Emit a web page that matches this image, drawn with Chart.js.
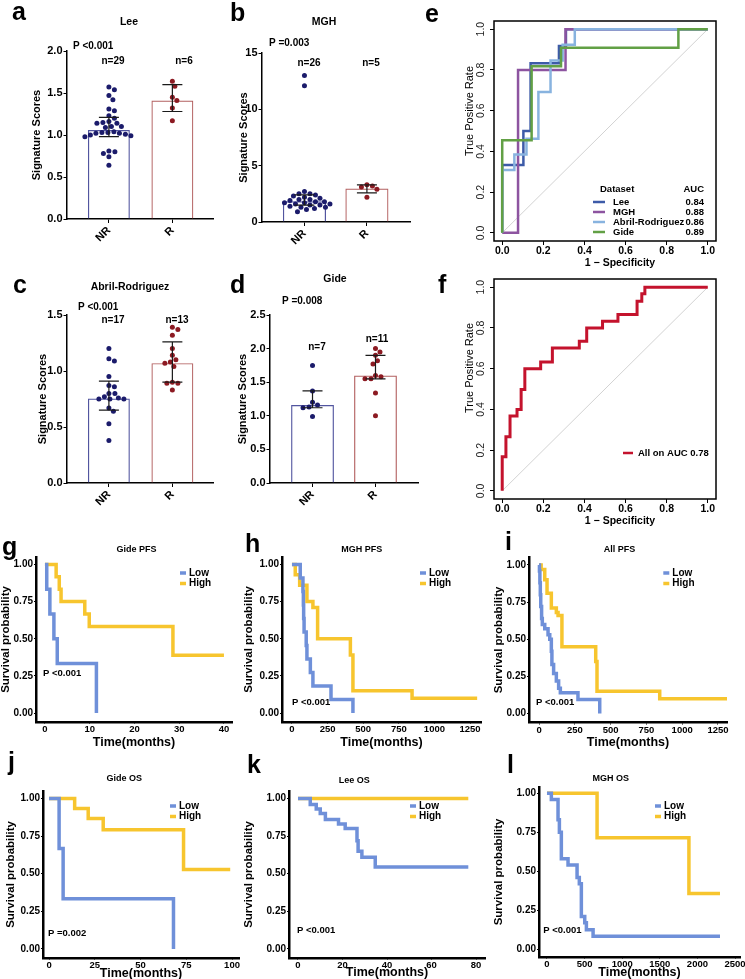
<!DOCTYPE html>
<html>
<head>
<meta charset="utf-8">
<script src="https://cdn.jsdelivr.net/npm/chart.js@4.4.1/dist/chart.umd.min.js"></script>
<style>
  body { margin: 0; width: 745px; height: 979px; position: relative; overflow: hidden; background: #fff; font-family: 'Liberation Sans', Arial, sans-serif; }
  canvas { position: absolute; }
  .lt { position: absolute; font-weight: bold; font-size: 25px; line-height: 1; z-index: 5; }
</style>
</head>
<body>
<div class="lt" style="left:12px;top:-1px">a</div>
<div class="lt" style="left:230px;top:0px">b</div>
<div class="lt" style="left:425px;top:1px">e</div>
<div class="lt" style="left:13px;top:272px">c</div>
<div class="lt" style="left:230px;top:272px">d</div>
<div class="lt" style="left:438px;top:272px">f</div>
<div class="lt" style="left:2px;top:534px">g</div>
<div class="lt" style="left:245px;top:531px">h</div>
<div class="lt" style="left:505px;top:529px">i</div>
<div class="lt" style="left:8px;top:749px">j</div>
<div class="lt" style="left:247px;top:752px">k</div>
<div class="lt" style="left:507px;top:752px">l</div>
<script>
// ---------- data ----------
// a-d: signature scores, non-responders vs responders
const groups = ['NR', 'R'];

const leeNR = [1.57, 1.54, 1.47, 1.42, 1.31, 1.29, 1.23, 1.20, 1.16, 1.15, 1.14, 1.14, 1.10, 1.10, 1.09,
               1.04, 1.03, 1.03, 1.02, 1.02, 1.01, 1.00, 0.99, 0.98, 0.81, 0.80, 0.78, 0.74, 0.64];
const leeR = [1.64, 1.58, 1.45, 1.41, 1.32, 1.17];
const leeBar = [1.06, 1.41];
const leeLo = [0.98, 1.28];
const leeHi = [1.21, 1.60];

const mghNR = [13.0, 12.1, 2.7, 2.5, 2.5, 2.4, 2.3, 2.2, 2.1, 2.0, 2.0, 1.9, 1.8, 1.8, 1.7, 1.7,
               1.6, 1.6, 1.5, 1.5, 1.4, 1.3, 1.3, 1.2, 1.1, 0.9];
const mghR = [3.3, 3.2, 3.1, 2.9, 2.2];
const mghBar = [1.84, 2.97];
const mghLo = [1.5, 2.58];
const mghHi = [2.4, 3.3];

const abrNR = [1.20, 1.11, 1.09, 0.95, 0.87, 0.86, 0.80, 0.80, 0.77, 0.76, 0.75, 0.75, 0.75, 0.67, 0.64, 0.53, 0.38];
const abrR = [1.39, 1.37, 1.32, 1.20, 1.14, 1.10, 1.08, 1.07, 1.04, 0.90, 0.89, 0.89, 0.83];
const abrBar = [0.755, 1.07];
const abrLo = [0.65, 0.90];
const abrHi = [0.91, 1.26];

const gideNR = [1.75, 1.37, 1.20, 1.16, 1.13, 1.12, 0.99];
const gideR = [2.0, 1.95, 1.90, 1.82, 1.77, 1.60, 1.58, 1.55, 1.55, 1.34, 1.0];
const gideBar = [1.16, 1.60];
const gideLo = [1.12, 1.55];
const gideHi = [1.37, 1.90];

const ticksLee = [0, 0.5, 1, 1.5, 2];
const ticksMgh = [0, 5, 10, 15];
const ticksAbr = [0, 0.5, 1, 1.5];
const ticksGide = [0, 0.5, 1, 1.5, 2, 2.5];

// e-f: ROC curves (1 - specificity, sensitivity)
const leeFpr = [0, 0, 0.103, 0.103, 0.138, 0.138, 0.276, 0.276, 0.31, 0.31, 1];
const leeTpr = [0, 0.333, 0.333, 0.5, 0.5, 0.833, 0.833, 0.917, 0.917, 1, 1];
const mghFpr = [0, 0.077, 0.077, 0.308, 0.308, 1];
const mghTpr = [0, 0, 0.8, 0.8, 1, 1];
const abrFpr = [0, 0, 0.059, 0.059, 0.118, 0.118, 0.176, 0.176, 0.235, 0.235, 0.294, 0.294, 0.353, 0.353, 1];
const abrTpr = [0, 0.308, 0.308, 0.385, 0.385, 0.462, 0.462, 0.692, 0.692, 0.846, 0.846, 0.923, 0.923, 1, 1];
const gideFpr = [0, 0, 0.143, 0.143, 0.286, 0.286, 0.857, 0.857, 1];
const gideTpr = [0, 0.455, 0.455, 0.818, 0.818, 0.909, 0.909, 1, 1];
const allFpr = [0, 0, 0.018, 0.018, 0.038, 0.038, 0.072, 0.072, 0.092, 0.092, 0.11, 0.11, 0.187, 0.187,
                0.244, 0.244, 0.375, 0.375, 0.411, 0.411, 0.488, 0.488, 0.563, 0.563, 0.656, 0.656,
                0.679, 0.679, 0.694, 0.694, 1];
const allTpr = [0, 0.167, 0.167, 0.265, 0.265, 0.368, 0.368, 0.399, 0.399, 0.498, 0.498, 0.6, 0.6, 0.632,
                0.632, 0.701, 0.701, 0.734, 0.734, 0.8, 0.8, 0.833, 0.833, 0.866, 0.866, 0.931, 0.931,
                0.967, 0.967, 1, 1];
const rocNames = ['Lee', 'MGH', 'Abril-Rodriguez', 'Gide'];
const rocAuc = ['0.84', '0.88', '0.86', '0.89'];
const rocTicks = [0, 0.2, 0.4, 0.6, 0.8, 1];

// g-l: Kaplan-Meier curves (time, survival after each step)
const gLowT = [0, 0.4, 1.1, 2.0, 2.75, 11.5];
const gLowS = [1, 0.833, 0.667, 0.5, 0.333, 0];
const gHighT = [0, 2.5, 3.2, 3.6, 8.9, 9.9, 28.6, 40];
const gHighS = [1, 0.917, 0.833, 0.75, 0.667, 0.583, 0.389, 0.389];

const hLowT = [0, 58, 77, 80, 82, 85, 100, 105, 129, 147, 274, 428];
const hLowS = [1, 0.909, 0.818, 0.727, 0.636, 0.545, 0.455, 0.364, 0.273, 0.182, 0.091, 0];
const hHighT = [0, 23, 54, 105, 147, 180, 410, 428, 843, 1300];
const hHighS = [1, 0.93, 0.86, 0.75, 0.71, 0.5, 0.39, 0.15, 0.1, 0.1];

const iLowT = [0, 3, 6, 9, 12, 18, 23, 40, 63, 75, 86, 90, 102, 121, 137, 149, 272, 424];
const iLowS = [1, 0.96, 0.88, 0.8, 0.72, 0.64, 0.6, 0.57, 0.53, 0.5, 0.42, 0.33, 0.27, 0.22, 0.17, 0.14, 0.095, 0];
const iHighT = [0, 15, 40, 56, 86, 121, 133, 160, 396, 405, 843, 1320];
const iHighS = [1, 0.97, 0.9, 0.81, 0.71, 0.68, 0.66, 0.45, 0.35, 0.15, 0.1, 0.1];

const jLowT = [0, 5.5, 7.7, 68];
const jLowS = [1, 0.667, 0.333, 0];
const jHighT = [0, 14, 21.4, 29.6, 73.5, 99];
const jHighS = [1, 0.933, 0.867, 0.793, 0.529, 0.529];

const kLowT = [0, 5.5, 8.2, 10, 12.3, 18.2, 21.2, 26.5, 27, 28.7, 34.7, 76.5];
const kLowS = [1, 0.96, 0.93, 0.9, 0.86, 0.83, 0.8, 0.72, 0.65, 0.61, 0.545, 0.545];
const kHighT = [0, 76.5];
const kHighS = [1, 1];

const lLowT = [0, 58, 147, 165, 191, 280, 400, 430, 457, 502, 524, 613, 2300];
const lLowS = [1, 0.96, 0.83, 0.75, 0.58, 0.54, 0.46, 0.42, 0.21, 0.17, 0.125, 0.083, 0.083];
const lHighT = [0, 666, 1887, 2300];
const lHighS = [1, 0.714, 0.357, 0.357];

const survTicks = [0, 0.25, 0.5, 0.75, 1];
const gxTicks = [0, 10, 20, 30, 40];
const hxTicks = [0, 250, 500, 750, 1000, 1250];
const jxTicks = [0, 25, 50, 75, 100];
const kxTicks = [0, 20, 40, 60, 80];
const lxTicks = [0, 500, 1000, 1500, 2000, 2500];

// ---------- styles ----------
const FONT = "'Liberation Sans', Arial, sans-serif";
const NAVY = '#1b1b6b', DRED = '#8c1a22', NRLINE = '#52559f', RLINE = '#b36060';
const LOW = '#6f90d9', HIGH = '#f7c52e';
const C_LEE = '#3d5ba8', C_MGH = '#8d54a0', C_ABR = '#88b3df', C_GIDE = '#62a045', C_ALL = '#c4132d';

const fnt = (size, bold) => ({ family: FONT, size: size, weight: bold ? 'bold' : 'normal' });
const css = (size, bold) => (bold ? 'bold ' : '') + size + 'px ' + FONT;
const txt = (t, x, y, size, bold, align, rot) => ({ t, x, y, size, bold, align: align || 'left', rot: rot || 0 });
const seg = (x1, y1, x2, y2, color, w) => ({ line: [x1, y1, x2, y2], color, w });

// ---------- plugins ----------
const notes = {
  id: 'notes',
  afterDraw(chart, args, o) {
    if (!o.items) return;
    const ctx = chart.ctx, ox = o.origin[0], oy = o.origin[1];
    o.items.forEach(it => {
      ctx.save();
      if (it.line) {
        ctx.strokeStyle = it.color;
        ctx.lineWidth = it.w;
        ctx.beginPath();
        ctx.moveTo(it.line[0] - ox, it.line[1] - oy);
        ctx.lineTo(it.line[2] - ox, it.line[3] - oy);
        ctx.stroke();
      } else {
        ctx.font = css(it.size, it.bold);
        ctx.fillStyle = '#000';
        ctx.textAlign = it.align;
        ctx.textBaseline = 'middle';
        ctx.translate(it.x - ox, it.y - oy);
        if (it.rot) ctx.rotate(it.rot);
        ctx.fillText(it.t, 0, 0);
      }
      ctx.restore();
    });
  }
};

const errbars = {
  id: 'errbars',
  afterDatasetsDraw(chart, args, o) {
    if (!o.lo) return;
    const ctx = chart.ctx, xs = chart.scales.x, ys = chart.scales.y;
    ctx.save();
    ctx.strokeStyle = '#1a1a1a';
    ctx.lineWidth = 1.2;
    o.lo.forEach((lo, i) => {
      const px = xs.getPixelForValue(i);
      const y1 = ys.getPixelForValue(lo), y2 = ys.getPixelForValue(o.hi[i]);
      ctx.beginPath();
      ctx.moveTo(px, y1); ctx.lineTo(px, y2);
      ctx.moveTo(px - o.cap, y1); ctx.lineTo(px + o.cap, y1);
      ctx.moveTo(px - o.cap, y2); ctx.lineTo(px + o.cap, y2);
      ctx.stroke();
    });
    ctx.restore();
  }
};

const frame = {
  id: 'frame',
  afterDatasetsDraw(chart, args, o) {
    if (!o.width) return;
    const a = chart.chartArea, ctx = chart.ctx;
    ctx.save();
    ctx.strokeStyle = '#000';
    ctx.lineWidth = o.width;
    ctx.strokeRect(a.left, a.top, a.right - a.left, a.bottom - a.top);
    ctx.restore();
  }
};

Chart.register(notes, errbars, frame);

// ---------- helpers ----------
function mount(box) {
  const c = document.createElement('canvas');
  c.width = box[2];
  c.height = box[3];
  c.style.left = box[0] + 'px';
  c.style.top = box[1] + 'px';
  document.body.appendChild(c);
  return c;
}

// yEdge: left edge of the y axis box, xEdge: bottom edge of the x axis box (page px)
function pads(box, area, yEdge, xEdge) {
  return { left: yEdge - box[0], top: area.t - box[1], right: box[0] + box[2] - area.r, bottom: box[1] + box[3] - xEdge };
}
const fitW = w => s => { s.width = w; s.paddingTop = 0; s.paddingBottom = 0; s.paddingLeft = 0; s.paddingRight = 0; };
const fitH = h => s => { s.height = h; s.paddingTop = 0; s.paddingBottom = 0; s.paddingLeft = 0; s.paddingRight = 0; };
const fixTicks = vals => s => { s.ticks = vals.map(v => ({ value: v })); };
const pairs = (xs, ys) => xs.map((x, i) => ({ x: x, y: ys[i] }));

// spread equal-ish values sideways so dots do not overlap (beeswarm)
function swarm(chart, di, center) {
  const xs = chart.scales.x, ys = chart.scales.y;
  const unit = xs.getPixelForValue(1) - xs.getPixelForValue(0);
  const ds = chart.data.datasets[di];
  const pts = ds.data;
  const gap = 2 * ds.pointRadius + 0.6;
  const placed = [];
  pts.map((p, i) => i).sort((i, j) => pts[j].y - pts[i].y).forEach(i => {
    const py = ys.getPixelForValue(pts[i].y);
    let off = 0;
    for (let k = 0; k < 300; k++) {
      off = (k % 2 ? 1 : -1) * Math.ceil(k / 2) * 0.5;
      if (placed.every(q => Math.hypot(q[0] - off, q[1] - py) >= gap)) break;
    }
    placed.push([off, py]);
    pts[i].x = center + off / unit;
  });
}

function axisBase(tl, bw) {
  return {
    grid: { display: true, drawOnChartArea: false, drawTicks: true, tickLength: tl, color: '#000', lineWidth: 1, offset: false },
    border: { display: bw > 0, color: '#000', width: bw }
  };
}

// ---------- a-d ----------
function scorePanel(p) {
  const box = p.box, a = p.area;
  const xb = axisBase(4, 1.5), yb = axisBase(3.5, 1.5);
  const chart = new Chart(mount(box), {
    type: 'bar',
    data: {
      datasets: [
        { type: 'scatter', data: p.nr.map(v => ({ x: 0, y: v })), backgroundColor: NAVY, borderWidth: 0, pointRadius: 2.5, order: 1 },
        { type: 'scatter', data: p.r.map(v => ({ x: 1, y: v })), backgroundColor: DRED, borderWidth: 0, pointRadius: 2.5, order: 1 },
        { type: 'bar', data: p.bar.map((v, i) => ({ x: i, y: v })), backgroundColor: 'rgba(255,255,255,0)',
          borderColor: [NRLINE, RLINE], borderWidth: 1.2, barPercentage: p.bw, categoryPercentage: 1, order: 2 }
      ]
    },
    options: {
      responsive: false, animation: false, events: [],
      layout: { padding: pads(box, a, p.yEdge, box[1] + box[3]) },
      plugins: {
        legend: { display: false }, tooltip: { enabled: false },
        errbars: { lo: p.lo, hi: p.hi, cap: 10 },
        notes: { origin: box, items: p.notes }
      },
      scales: {
        x: {
          type: 'linear', min: p.xr[0], max: p.xr[1], offset: false,
          afterFit: fitH(box[1] + box[3] - a.b), afterBuildTicks: fixTicks([0, 1]),
          ticks: { callback: v => groups[v], minRotation: 45, maxRotation: 45, autoSkip: false, padding: 1, color: '#000', font: fnt(11, true) },
          grid: xb.grid, border: xb.border
        },
        y: {
          min: p.yr[0], max: p.yr[1],
          afterFit: fitW(a.l - p.yEdge), afterBuildTicks: fixTicks(p.yt),
          ticks: { callback: v => v.toFixed(p.dec), padding: 1, color: '#000', font: fnt(11, true) },
          title: { display: true, text: 'Signature Scores', color: '#000', font: fnt(11, true), padding: 0 },
          grid: yb.grid, border: yb.border
        }
      }
    }
  });
  swarm(chart, 0, 0);
  swarm(chart, 1, 1);
  chart.update('none');
}

scorePanel({
  box: [0, 0, 232, 245], area: { l: 67, t: 51, r: 213, b: 219 }, yEdge: 30.4,
  xr: [-0.66, 1.64], yr: [0, 2], yt: ticksLee, dec: 1, bw: 0.66,
  nr: leeNR, r: leeR, bar: leeBar, lo: leeLo, hi: leeHi,
  notes: [txt('Lee', 129, 22, 10.5, true, 'center'), txt('P <0.001', 73, 46, 10, true),
          txt('n=29', 113, 61, 10, true, 'center'), txt('n=6', 184, 61, 10, true, 'center')]
});
scorePanel({
  box: [235, 0, 225, 245], area: { l: 262, t: 53, r: 410, b: 222 }, yEdge: 237.4,
  xr: [-0.68, 1.69], yr: [0, 15], yt: ticksMgh, dec: 0, bw: 0.69,
  nr: mghNR, r: mghR, bar: mghBar, lo: mghLo, hi: mghHi,
  notes: [txt('MGH', 324, 22, 10.5, true, 'center'), txt('P =0.003', 269, 43, 10, true),
          txt('n=26', 309, 63, 10, true, 'center'), txt('n=5', 371, 63, 10, true, 'center')]
});
scorePanel({
  box: [0, 262, 232, 245], area: { l: 67, t: 315, r: 213, b: 483 }, yEdge: 36.4,
  xr: [-0.66, 1.64], yr: [0, 1.5], yt: ticksAbr, dec: 1, bw: 0.66,
  nr: abrNR, r: abrR, bar: abrBar, lo: abrLo, hi: abrHi,
  notes: [txt('Abril-Rodriguez', 130, 287, 10.5, true, 'center'), txt('P <0.001', 78, 307, 10, true),
          txt('n=17', 113, 320, 10, true, 'center'), txt('n=13', 177, 320, 10, true, 'center')]
});
scorePanel({
  box: [235, 262, 225, 245], area: { l: 270, t: 315, r: 418, b: 483 }, yEdge: 236.4,
  xr: [-0.675, 1.675], yr: [0, 2.5], yt: ticksGide, dec: 1, bw: 0.68,
  nr: gideNR, r: gideR, bar: gideBar, lo: gideLo, hi: gideHi,
  notes: [txt('Gide', 335, 279, 10.5, true, 'center'), txt('P =0.008', 282, 301, 10, true),
          txt('n=7', 317, 347, 10, true, 'center'), txt('n=11', 377, 339, 10, true, 'center')]
});

// ---------- e-f ----------
function rocPanel(p) {
  const box = p.box, a = p.area;
  const ds = [{ data: [{ x: 0, y: 0 }, { x: 1, y: 1 }], borderColor: '#d2d2d2', borderWidth: 1, order: 9 }];
  p.curves.forEach(c => ds.push({ data: pairs(c.f, c.t), borderColor: c.color, borderWidth: c.w, order: c.order }));
  const b = axisBase(4, 0);
  new Chart(mount(box), {
    type: 'line',
    data: { datasets: ds },
    options: {
      responsive: false, animation: false, events: [],
      elements: { point: { radius: 0 }, line: { tension: 0, borderJoinStyle: 'miter' } },
      layout: { padding: pads(box, a, box[0], a.b + 20) },
      plugins: {
        legend: { display: false }, tooltip: { enabled: false },
        frame: { width: 1.5 },
        notes: { origin: box, items: p.notes }
      },
      scales: {
        x: {
          type: 'linear', min: -0.04, max: 1.04,
          afterFit: fitH(20), afterBuildTicks: fixTicks(rocTicks),
          ticks: { callback: v => v.toFixed(1), padding: 0, autoSkip: false, maxRotation: 0, color: '#000', font: fnt(10.5, true) },
          grid: b.grid, border: b.border
        },
        y: {
          type: 'linear', min: -0.04, max: 1.04,
          afterFit: fitW(a.l - box[0]), afterBuildTicks: fixTicks(rocTicks),
          ticks: { callback: v => v.toFixed(1), minRotation: 90, maxRotation: 90, crossAlign: 'center', padding: 2, color: '#222', font: fnt(10.5, false) },
          grid: b.grid, border: b.border
        }
      }
    }
  });
}

const eCurves = [
  { f: leeFpr, t: leeTpr, color: C_LEE, w: 2.5, order: 4 },
  { f: mghFpr, t: mghTpr, color: C_MGH, w: 2.5, order: 3 },
  { f: abrFpr, t: abrTpr, color: C_ABR, w: 2.5, order: 2 },
  { f: gideFpr, t: gideTpr, color: C_GIDE, w: 2.5, order: 1 }
];
const eNotes = [
  txt('True Positive Rate', 470, 111, 11, false, 'center', -Math.PI / 2),
  txt('1 \u2212 Specificity', 620, 263, 10.5, true, 'center'),
  txt('Dataset', 600, 189, 9.5, true), txt('AUC', 704, 189, 9.5, true, 'right')
];
rocNames.forEach((n, i) => {
  const y = 202 + i * 10;
  eNotes.push(seg(593, y, 605, y, eCurves[i].color, 2.5));
  eNotes.push(txt(n, 613, y, 9.5, true));
  eNotes.push(txt(rocAuc[i], 704, y, 9.5, true, 'right'));
});
rocPanel({ box: [455, 0, 290, 275], area: { l: 494, t: 21, r: 716, b: 241 }, curves: eCurves, notes: eNotes });

rocPanel({
  box: [455, 262, 290, 275], area: { l: 494, t: 279, r: 716, b: 499 },
  curves: [{ f: allFpr, t: allTpr, color: C_ALL, w: 3, order: 1 }],
  notes: [
    txt('True Positive Rate', 470, 368, 11, false, 'center', -Math.PI / 2),
    txt('1 \u2212 Specificity', 620, 521, 10.5, true, 'center'),
    seg(623, 453, 633, 453, C_ALL, 2.5), txt('All on AUC 0.78', 638, 453, 9.5, true)
  ]
});

// ---------- g-l ----------
function kmPanel(p) {
  const box = p.box, a = p.area;
  const b = axisBase(2, 2.5);
  const lx1 = p.leg[0], lx2 = p.leg[0] + 6, tx = p.leg[0] + 9, ly = p.leg[1];
  const items = [
    txt(p.title, p.tpos[0], p.tpos[1], 9, true, 'center'),
    txt(p.ptxt, p.ppos[0], p.ppos[1], 9.5, true),
    seg(lx1, ly, lx2, ly, LOW, 3.5), txt('Low', tx, ly, 10, true),
    seg(lx1, ly + 10.5, lx2, ly + 10.5, HIGH, 3.5), txt('High', tx, ly + 10.5, 10, true)
  ];
  new Chart(mount(box), {
    type: 'line',
    data: {
      datasets: [
        { data: pairs(p.lowT, p.lowS), borderColor: LOW, borderWidth: 3.5, stepped: true, order: 0 },
        { data: pairs(p.highT, p.highS), borderColor: HIGH, borderWidth: 3.5, stepped: true, order: 1 }
      ]
    },
    options: {
      responsive: false, animation: false, events: [],
      elements: { point: { radius: 0 } },
      layout: { padding: pads(box, a, p.yEdge, p.xEdge) },
      plugins: { legend: { display: false }, tooltip: { enabled: false }, notes: { origin: box, items: items } },
      scales: {
        x: {
          type: 'linear', min: p.xr[0], max: p.xr[1],
          afterFit: fitH(p.xEdge - a.b), afterBuildTicks: fixTicks(p.xt),
          ticks: { callback: v => String(v), padding: 0, autoSkip: false, maxRotation: 0, color: '#000', font: fnt(9.5, true) },
          title: { display: true, text: 'Time(months)', color: '#000', font: fnt(12.5, true), padding: 0 },
          grid: b.grid, border: b.border
        },
        y: {
          type: 'linear', min: p.yr[0], max: p.yr[1],
          afterFit: fitW(a.l - p.yEdge), afterBuildTicks: fixTicks(survTicks),
          ticks: { callback: v => v.toFixed(2), padding: 1, color: '#000', font: fnt(10, true) },
          title: { display: true, text: 'Survival probability', color: '#000', font: fnt(11.5, true), padding: 0 },
          grid: b.grid, border: b.border
        }
      }
    }
  });
}

kmPanel({
  box: [-4, 530, 244, 225], area: { l: 36, t: 557, r: 232, b: 722 }, yEdge: -1.4, xEdge: 750,
  xr: [-2, 41.8], yr: [-0.06, 1.05], xt: gxTicks,
  lowT: gLowT, lowS: gLowS, highT: gHighT, highS: gHighS,
  title: 'Gide PFS', tpos: [136.5, 550], ptxt: 'P <0.001', ppos: [43, 673], leg: [180, 573]
});
kmPanel({
  box: [232, 530, 255, 225], area: { l: 282, t: 557, r: 481, b: 722 }, yEdge: 241.6, xEdge: 750,
  xr: [-70, 1327], yr: [-0.06, 1.05], xt: hxTicks,
  lowT: hLowT, lowS: hLowS, highT: hHighT, highS: hHighS,
  title: 'MGH PFS', tpos: [361.7, 550], ptxt: 'P <0.001', ppos: [292, 702], leg: [420, 573]
});
kmPanel({
  box: [482, 530, 263, 225], area: { l: 529, t: 557.5, r: 727, b: 722.5 }, yEdge: 491.6, xEdge: 750,
  xr: [-70, 1313], yr: [-0.06, 1.05], xt: hxTicks,
  lowT: iLowT, lowS: iLowS, highT: iHighT, highS: iHighS,
  title: 'All PFS', tpos: [619.5, 550], ptxt: 'P <0.001', ppos: [536, 702], leg: [663.3, 573]
});
kmPanel({
  box: [-4, 750, 248, 232], area: { l: 43, t: 791, r: 239, b: 958 }, yEdge: 3.6, xEdge: 981,
  xr: [-3.3, 103.8], yr: [-0.06, 1.05], xt: jxTicks,
  lowT: jLowT, lowS: jLowS, highT: jHighT, highS: jHighS,
  title: 'Gide OS', tpos: [124.2, 779], ptxt: 'P =0.002', ppos: [48, 933], leg: [170, 806]
});
kmPanel({
  box: [232, 750, 258, 232], area: { l: 289, t: 791, r: 485, b: 958 }, yEdge: 242.1, xEdge: 980,
  xr: [-4.04, 84], yr: [-0.06, 1.05], xt: kxTicks,
  lowT: kLowT, lowS: kLowS, highT: kHighT, highS: kHighS,
  title: 'Lee OS', tpos: [354.3, 781], ptxt: 'P <0.001', ppos: [297, 930], leg: [410, 806]
});
kmPanel({
  box: [487, 750, 258, 232], area: { l: 539, t: 787, r: 740, b: 957 }, yEdge: 491.6, xEdge: 980,
  xr: [-106, 2566], yr: [-0.05, 1.04], xt: lxTicks,
  lowT: lLowT, lowS: lLowS, highT: lHighT, highS: lHighS,
  title: 'MGH OS', tpos: [610.8, 778.3], ptxt: 'P <0.001', ppos: [543.3, 930], leg: [655, 806]
});
</script>
</body>
</html>
